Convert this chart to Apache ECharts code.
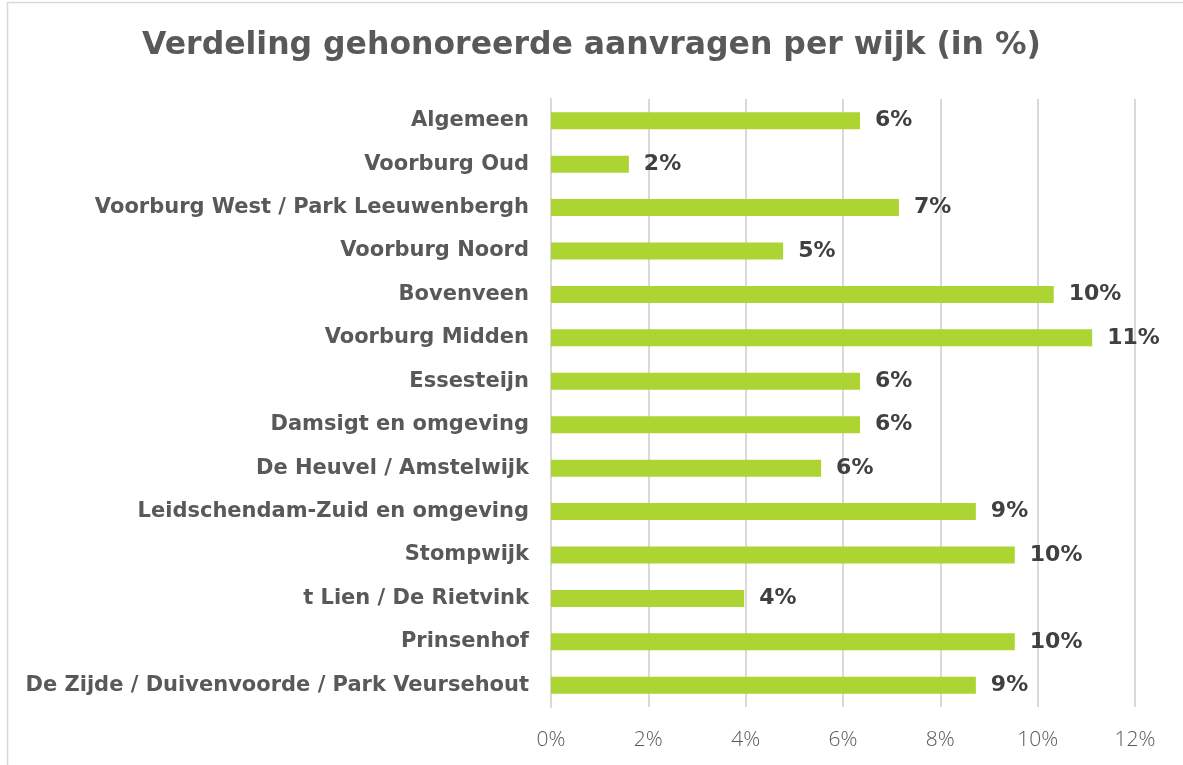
<!DOCTYPE html>
<html>
<head>
<meta charset="utf-8">
<script src="https://cdn.jsdelivr.net/npm/echarts@6/dist/echarts.min.js"></script>
<style>
  html, body { margin: 0; padding: 0; background: #fff; }
  #main { width: 1183px; height: 765px; }
</style>
</head>
<body>
<div id="main"></div>
<script>
// wijken, van boven naar beneden
var wijken = ['Algemeen', 'Voorburg Oud', 'Voorburg West / Park Leeuwenbergh', 'Voorburg Noord',
    'Bovenveen', 'Voorburg Midden', 'Essesteijn', 'Damsigt en omgeving', 'De Heuvel / Amstelwijk',
    'Leidschendam-Zuid en omgeving', 'Stompwijk', 't Lien / De Rietvink', 'Prinsenhof',
    'De Zijde / Duivenvoorde / Park Veursehout'];
// aandeel gehonoreerde aanvragen (%)
var aandeel = [6.35, 1.6, 7.15, 4.77, 10.33, 11.12, 6.35, 6.35, 5.55, 8.73, 9.53, 3.97, 9.53, 8.73];
var xTicks = [0, 2, 4, 6, 8, 10, 12];

var boldFont = '"DejaVu Sans", sans-serif';
var lightFont = '"Open Sans", sans-serif';
var myChart = echarts.init(document.getElementById('main'));

myChart.setOption({
    animation: false,
    title: {
        text: 'Verdeling gehonoreerde aanvragen per wijk (in %)',
        left: 'center',
        top: 25,
        textStyle: { fontFamily: boldFont, fontWeight: 'bold', fontSize: 31.5, color: '#595959' }
    },
    graphic: [{
        type: 'rect',
        shape: { x: 7.5, y: 2.5, width: 1200, height: 800 },
        style: { fill: 'none', stroke: '#d9d9d9', lineWidth: 1.5 },
        silent: true
    }],
    grid: { left: 551, right: 48, top: 99, bottom: 58 },
    xAxis: {
        type: 'value',
        min: xTicks[0],
        max: xTicks[xTicks.length - 1],
        interval: 2,
        axisLine: { show: false },
        axisTick: { show: false },
        splitLine: { lineStyle: { color: '#d9d9d9', width: 2 } },
        axisLabel: {
            margin: 23,
            fontFamily: lightFont,
            fontWeight: 300,
            fontSize: 21,
            color: '#595959',
            formatter: function(v) { return v + '%'; }
        }
    },
    yAxis: {
        type: 'category',
        inverse: true,
        data: wijken,
        axisLine: { lineStyle: { color: '#d9d9d9', width: 2 } },
        axisTick: { show: false },
        axisLabel: {
            margin: 22,
            fontFamily: boldFont,
            fontWeight: 'bold',
            fontSize: 21,
            color: '#595959'
        }
    },
    series: [{
        type: 'bar',
        data: aandeel,
        barWidth: 17,
        itemStyle: { color: '#acd433' },
        label: {
            show: true,
            position: 'right',
            distance: 15,
            fontFamily: boldFont,
            fontWeight: 'bold',
            fontSize: 22,
            color: '#404040',
            formatter: function(p) { return Math.round(p.value) + '%'; }
        }
    }]
});
</script>
</body>
</html>
